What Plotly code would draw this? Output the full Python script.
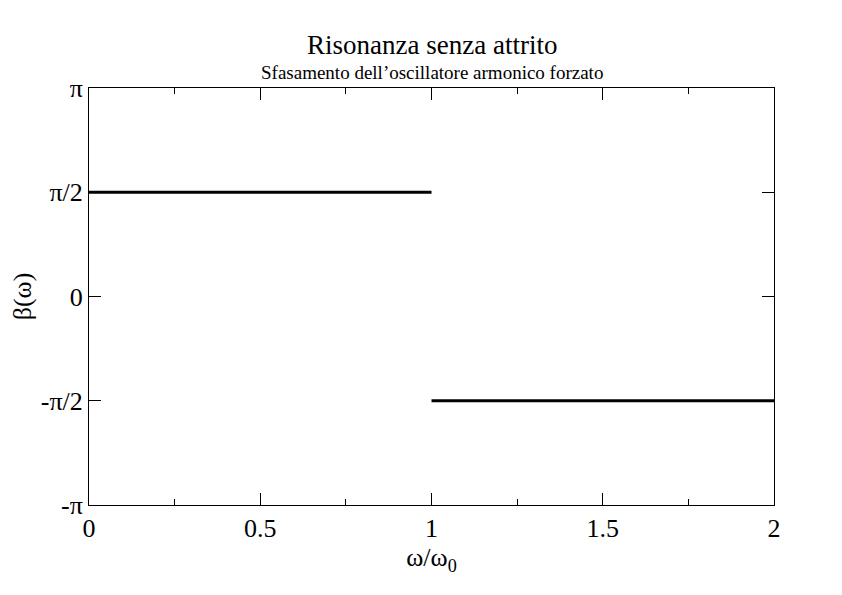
import plotly.graph_objects as go
import numpy as np

x_low = [0, 1]
y_low = [np.pi / 2, np.pi / 2]
x_high = [1, 2]
y_high = [-np.pi / 2, -np.pi / 2]

y_tickvals = [-np.pi, -np.pi / 2, 0, np.pi / 2, np.pi]
y_ticktext = ["-π", "-π/2", "0", "π/2", "π"]
x_tickvals = [0, 0.5, 1, 1.5, 2]
x_ticktext = ["0", "0.5", "1", "1.5", "2"]

font = "Liberation Serif"

fig = go.Figure()
fig.add_trace(go.Scatter(x=x_low, y=y_low, mode="lines",
                         line=dict(color="black", width=3), showlegend=False))
fig.add_trace(go.Scatter(x=x_high, y=y_high, mode="lines",
                         line=dict(color="black", width=3), showlegend=False))

axis_common = dict(showline=True, linecolor="black", linewidth=1, mirror="allticks",
                   ticks="inside", tickcolor="black", ticklen=12, tickwidth=1,
                   showgrid=False, zeroline=False, automargin=False,
                   tickfont=dict(family=font, size=26, color="black"))

fig.update_xaxes(range=[0, 2], tickvals=x_tickvals, ticktext=x_ticktext,
                 minor=dict(ticks="inside", ticklen=6, tickcolor="black", dtick=0.25, showgrid=False),
                 title=dict(text="ω/ω<sub>0</sub>", font=dict(family=font, size=26, color="black"), standoff=0),
                 **axis_common)
fig.update_yaxes(range=[-np.pi, np.pi], tickvals=y_tickvals, ticktext=y_ticktext,
                 title=dict(text="β(ω)", font=dict(family=font, size=26, color="black"), standoff=10),
                 **axis_common)

fig.add_annotation(text="Risonanza senza attrito", xref="paper", yref="paper",
                   x=0.5, y=1, yshift=43, yanchor="middle", showarrow=False,
                   font=dict(family=font, size=27, color="black"))
fig.add_annotation(text="Sfasamento dell’oscillatore armonico forzato", xref="paper", yref="paper",
                   x=0.5, y=1, yshift=16, yanchor="middle", showarrow=False,
                   font=dict(family=font, size=19, color="black"))

# page body has an 8px margin; compensate so the plot box lands at 89..774 x 88..505
fig.update_layout(width=842, height=595, margin=dict(l=81, r=76, t=80, b=98),
                  plot_bgcolor="white", paper_bgcolor="white")

fig.write_html("out.html")
